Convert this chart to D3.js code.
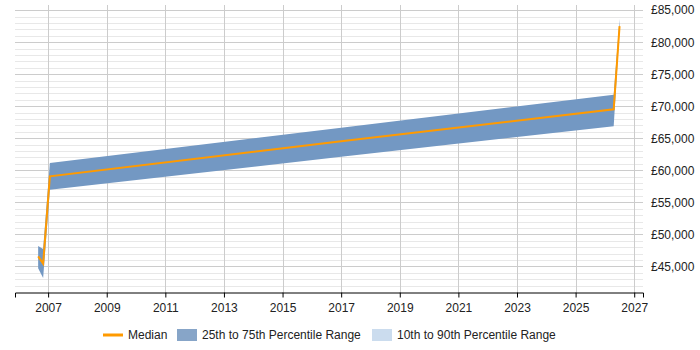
<!DOCTYPE html>
<html>
<head>
<meta charset="utf-8">
<script src="https://cdn.jsdelivr.net/npm/d3@7"></script>
<style>
    body { margin: 0; background: #fff; }
    svg text { font-family: "Liberation Sans", Arial, sans-serif; fill: #222; }
</style>
</head>
<body>
<svg id="chart" width="700" height="350"></svg>
<script>
// decimal years
var years = [2006.66, 2006.83, 2007.06, 2017.0, 2026.3, 2026.5];
var median = [46560, 45420, 59060, 64530, 69530, 82500];
var p25 = [44690, 43170, 56950, 62100, 66880, 81900];
var p75 = [48170, 47700, 61140, 66650, 71800, 83600];

var xTicks = [2007, 2009, 2011, 2013, 2015, 2017, 2019, 2021, 2023, 2025, 2027];
var yTicks = [45000, 50000, 55000, 60000, 65000, 70000, 75000, 80000, 85000];

var legendItems = ["Median", "25th to 75th Percentile Range", "10th to 90th Percentile Range"];

var svg = d3.select("#chart");

var margin = {top: 5, left: 15, bottom: 58, right: 57},
    width = 700,
    height = 350;

var x = d3.scaleLinear()
    .domain([2005.87, 2027.3])
    .range([margin.left, width - margin.right]);

var y = d3.scaleLinear()
    .domain([41000, 85800])
    .range([height - margin.bottom, margin.top]);

var data = years.map(function(d, i) {
    return {year: d, median: median[i], p25: p25[i], p75: p75[i]};
});

// minor grid every 1000
var minor = d3.range(42000, 85800, 1000).filter(function(d){ return d % 5000 !== 0 });

svg.append("g")
    .selectAll("line")
    .data(minor)
    .enter().append("line")
    .attr("x1", margin.left)
    .attr("x2", width - margin.right)
    .attr("y1", function(d){ return Math.round(y(d)) + 0.5 })
    .attr("y2", function(d){ return Math.round(y(d)) + 0.5 })
    .attr("stroke", "#e8e8e8");

svg.append("g")
    .selectAll("line")
    .data(yTicks)
    .enter().append("line")
    .attr("x1", margin.left)
    .attr("x2", width - margin.right)
    .attr("y1", function(d){ return Math.round(y(d)) + 0.5 })
    .attr("y2", function(d){ return Math.round(y(d)) + 0.5 })
    .attr("stroke", "#cccccc");

svg.append("g")
    .selectAll("line")
    .data(xTicks)
    .enter().append("line")
    .attr("x1", function(d){ return Math.round(x(d)) + 0.5 })
    .attr("x2", function(d){ return Math.round(x(d)) + 0.5 })
    .attr("y1", margin.top)
    .attr("y2", height - margin.bottom)
    .attr("stroke", "#cccccc");

// band
var area = d3.area()
    .x(function(d){ return x(d.year) })
    .y0(function(d){ return y(d.p25) })
    .y1(function(d){ return y(d.p75) });

svg.append("path")
    .datum(data)
    .attr("d", area)
    .attr("fill", "#7398c3");

var line = d3.line()
    .x(function(d){ return x(d.year) })
    .y(function(d){ return y(d.median) });

svg.append("path")
    .datum(data)
    .attr("d", line)
    .attr("fill", "none")
    .attr("stroke", "#ff9a00")
    .attr("stroke-width", 2);

// x axis
var xAxis = svg.append("g")
    .attr("transform", `translate(0,${height - margin.bottom + 0.5})`)
    .call(d3.axisBottom(x).tickValues(xTicks).tickFormat(d3.format("d")).tickSizeOuter(0).tickSize(5));

xAxis.select(".domain").attr("stroke", "#000");
xAxis.selectAll(".tick line").attr("stroke", "#000");
xAxis.selectAll("text")
    .attr("font-size", 12)
    .attr("dy", "0.95em")
    .style("font-family", "'Liberation Sans', Arial, sans-serif")
    .attr("fill", "#222");
xAxis.attr("font-size", null).attr("font-family", null);

// y axis labels on the right
var yAxis = svg.append("g")
    .attr("transform", `translate(${width - margin.right},0)`)
    .call(d3.axisRight(y).tickValues(yTicks).tickFormat(function(d){ return "£" + d3.format(",")(d) }).tickSize(0).tickPadding(8));

yAxis.select(".domain").remove();
yAxis.selectAll("text")
    .attr("font-size", 12)
    .style("font-family", "'Liberation Sans', Arial, sans-serif")
    .attr("fill", "#222");
yAxis.attr("font-size", null).attr("font-family", null);

// legend
var legend = svg.append("g").attr("transform", "translate(0,335)");

legend.append("line")
    .attr("x1", 103).attr("x2", 123)
    .attr("stroke", "#ff9a00")
    .attr("stroke-width", 3);

legend.append("rect")
    .attr("x", 177).attr("y", -6)
    .attr("width", 20).attr("height", 12)
    .attr("fill", "#87a5c8");

legend.append("rect")
    .attr("x", 372).attr("y", -6)
    .attr("width", 20).attr("height", 12)
    .attr("fill", "#cbdcee");

var legendX = [128, 202, 397];

legend.selectAll("text.leg")
    .data(legendItems)
    .enter().append("text")
    .attr("class", "leg")
    .attr("x", function(d, i){ return legendX[i] })
    .attr("dy", "0.35em")
    .attr("font-size", 12)
    .text(function(d){ return d });
</script>
</body>
</html>
